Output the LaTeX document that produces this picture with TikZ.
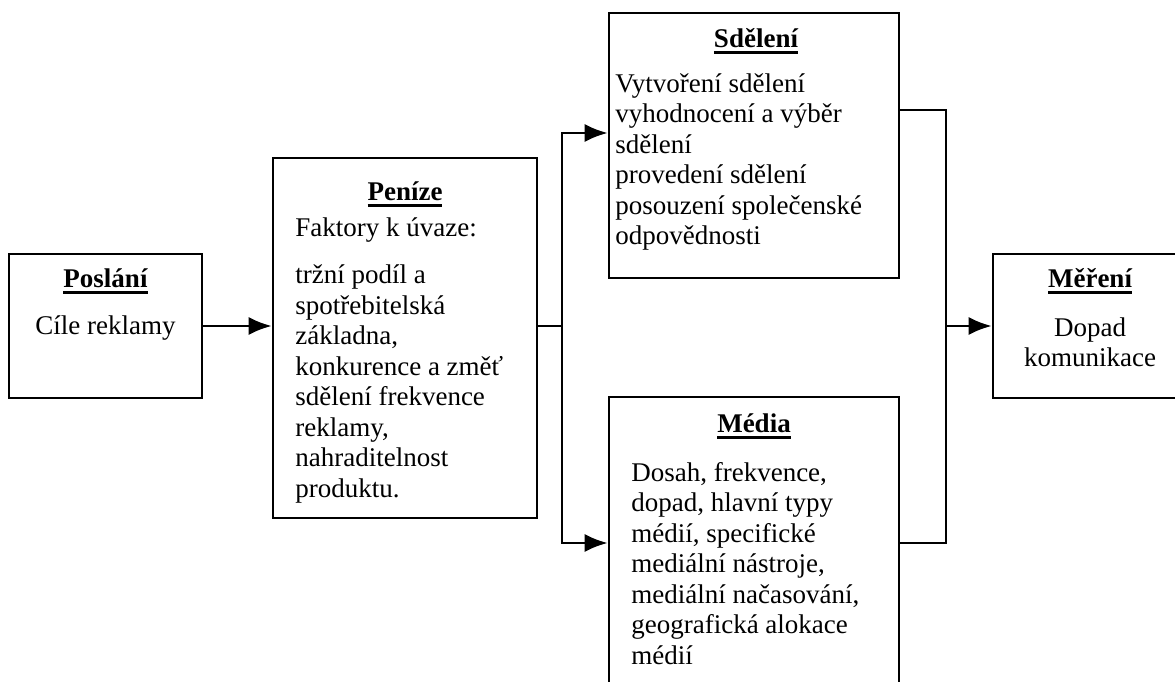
\documentclass[tikz,border=0pt]{standalone}
\usepackage{fontspec}
\setmainfont{Liberation Serif}
\usetikzlibrary{arrows.meta}

\newcommand\ulhead[1]{\setbox0\hbox{\bfseries #1}\vtop{\copy0\kern3pt\hrule height 2.8pt}}
\newcommand\firstline{\rule{0pt}{22pt}}

\begin{document}
\begin{tikzpicture}[x=1pt,y=1pt,line width=2.6pt,
  font=\fontsize{27}{30.5}\selectfont,
  box/.style={draw,inner sep=0pt},
  title/.style={anchor=base,inner sep=0pt},
  body/.style={anchor=north west,align=left,inner sep=0pt},
  arr/.style={-{Latex[length=23pt,width=18pt]}}]
  \useasboundingbox (0,0) rectangle (1175,682);
  \clip (0,0) rectangle (1175,682);

  \node[box,minimum width=193pt,minimum height=144pt] (poslani) at (105.5,356) {};
  \node[box,minimum width=264pt,minimum height=360pt] (penize) at (405,344) {};
  \node[box,minimum width=290pt,minimum height=265pt] (sdeleni) at (754,536.5) {};
  \node[box,minimum width=290pt,minimum height=292pt] (media) at (754,139) {};
  \node[box,minimum width=194pt,minimum height=144pt] (mereni) at (1090,356) {};

  \node[title] (poslani-title) at (105.5,394) {\ulhead{Poslání}};
  \node[title] (poslani-text) at (105.5,347) {Cíle reklamy};

  \node[title] (penize-title) at (405,481) {\ulhead{Peníze}};
  \node[body] (penize-text) at (294,469)
    {\firstline Faktory k úvaze:\\[17pt]
     tržní podíl a\\ spotřebitelská\\ základna,\\ konkurence a změť\\
     sdělení frekvence\\ reklamy,\\ nahraditelnost\\ produktu.};

  \node[title] (sdeleni-title) at (756,634) {\ulhead{Sdělení}};
  \node[body] (sdeleni-text) at (614,613)
    {\firstline Vytvoření sdělení\\ vyhodnocení a výběr\\ sdělení\\
     provedení sdělení\\ posouzení společenské\\ odpovědnosti};

  \node[title] (media-title) at (754,249) {\ulhead{Média}};
  \node[body] (media-text) at (630,224)
    {\firstline Dosah, frekvence,\\ dopad, hlavní typy\\ médií, specifické\\
     mediální nástroje,\\ mediální načasování,\\ geografická alokace\\ médií};

  \node[title] (mereni-title) at (1090,394) {\ulhead{Měření}};
  \node[body,anchor=north,align=center] (mereni-text) at (1090,369)
    {\firstline Dopad\\ komunikace};

  \coordinate (split) at (562,356);
  \coordinate (merge) at (946,356);

  \draw[arr] (poslani.east) -- (penize.west |- poslani.east);
  \draw (penize.east |- split) -- (split);
  \draw[arr] (split) |- ([yshift=12.5pt]sdeleni.west);
  \draw[arr] (split) |- (media.west);
  \draw ([yshift=35.5pt]sdeleni.east) -| (merge);
  \draw (media.east) -| (merge);
  \draw[arr] (merge) -- (mereni.west);
\end{tikzpicture}
\end{document}
